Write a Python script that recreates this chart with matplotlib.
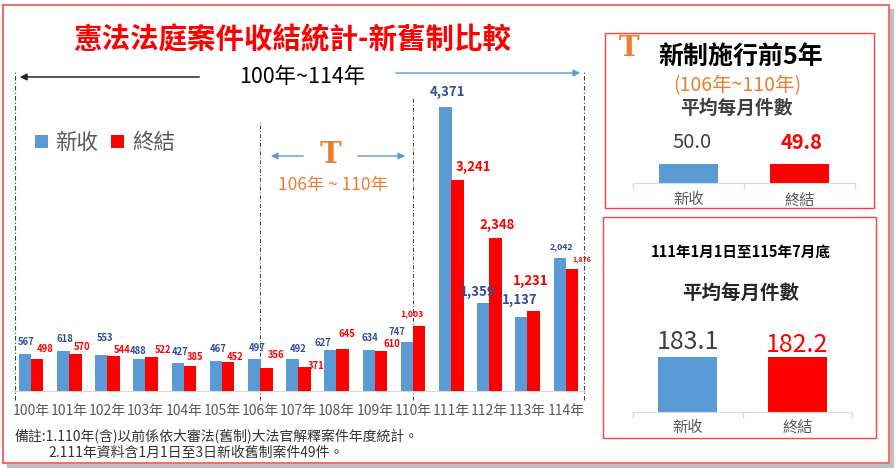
import matplotlib
matplotlib.use("Agg")
import numpy as np
import matplotlib.pyplot as plt
from matplotlib.patches import Rectangle

plt.rcParams['font.family'] = ['Noto Sans CJK TC', 'DejaVu Sans']

# ---- data ----
years = ['100年', '101年', '102年', '103年', '104年', '105年', '106年', '107年',
         '108年', '109年', '110年', '111年', '112年', '113年', '114年']
new_cases = [567, 618, 553, 488, 427, 467, 497, 492, 627, 634, 747, 4371, 1359, 1137, 2042]
closed_cases = [498, 570, 544, 522, 385, 452, 356, 371, 645, 610, 1003, 3241, 2348, 1231, 1876]

avg_labels = ['新收', '終結']
avg_before = [50.0, 49.8]      # 106~110年 平均每月件數
avg_after = [183.1, 182.2]     # 111年1月1日至115年7月底

# label offsets (pixels) and sizes, as placed in the original
blue_dx = [1, 1, 3, -2, 2, 2, 3, 6, -8, 1, -10, 2, -6, -2, 2]
blue_dy = [12, 12, 17, 8, 11, 12, 11, 10, 7, 12, 10, 15, 11, 17, 12]
red_dx = [8, 7, 9, 11, 5, 7, 10, 12, 4, 11, -7, 16, 2, -3, 10]
red_dy = [10, 7, 6, 7, 9, 5, 13, 1, 15, 7, 12, 13, 13, 30, 10]
blue_fs = [6.8] * 10 + [6.8, 9.5, 9.5, 9.5, 6.3]
red_fs = [6.8] * 10 + [6.2, 9.5, 9.5, 9.5, 5]

BLUE = '#5B9BD5'
RED = '#FF0000'
ORANGE = '#ED7D31'
GREY = '#595959'
DARK = '#404040'
NAVY = '#2F4F9A'

W, H = 896, 468


def fx(x):
    return x / W


def fy(y):
    return 1 - y / H


def fpx(x, y):
    return (x, H - y)


fig = plt.figure(figsize=(W / 100, H / 100), dpi=100)

# frame with shadow
fig.patches.append(Rectangle((fx(7), fy(467)), (893 - 7) / W, (467 - 9) / H,
                             transform=fig.transFigure, color='#BFBFBF', zorder=-3))
fig.patches.append(Rectangle((fx(3), fy(463)), (889 - 3) / W, (463 - 5) / H,
                             transform=fig.transFigure, facecolor='white',
                             edgecolor='#F07070', lw=1.5, zorder=-2))

# ---- main chart ----
ax = fig.add_axes([fx(12), fy(391), (585 - 12) / W, (391 - 70) / H])
ax.set_facecolor('none')
x = np.arange(len(years))
off = 0.155
bw = 0.33
b1 = ax.bar(x - off, new_cases, bw, color=BLUE, label='新收', zorder=2)
b2 = ax.bar(x + off, closed_cases, bw, color=RED, label='終結', zorder=3)
ax.set_xlim(-0.5, 14.5)
ax.set_ylim(0, 4940)

for i in range(len(years)):
    ax.annotate(f'{new_cases[i]:,}', (x[i] - off, new_cases[i]),
                xytext=(blue_dx[i], blue_dy[i]), textcoords='offset pixels',
                ha='center', va='center', fontsize=blue_fs[i],
                fontweight='bold', color=NAVY, zorder=5)
    ax.annotate(f'{closed_cases[i]:,}', (x[i] + off, closed_cases[i]),
                xytext=(red_dx[i], red_dy[i]), textcoords='offset pixels',
                ha='center', va='center', fontsize=red_fs[i],
                fontweight='bold', color=RED, zorder=5)

ax.set_xticks(x, years)
ax.tick_params(axis='x', length=0, pad=9, labelsize=10, labelcolor=GREY)
ax.set_yticks([])
for s in ['left', 'top', 'right']:
    ax.spines[s].set_visible(False)
ax.spines['bottom'].set_color('#D9D9D9')

dash = (0, (4, 2, 1, 2))
ax.vlines([-0.42, 14.48], -140, 4908, colors=DARK, lw=0.8,
          linestyles=[dash], clip_on=False, zorder=1)
ax.vlines([6], -140, 4138, colors=DARK, lw=0.7, linestyles=[dash], clip_on=False, zorder=1)
ax.vlines([10], -140, 4523, colors=DARK, lw=0.7, linestyles=[dash], clip_on=False, zorder=1)

ax.legend(handles=[b1, b2], loc='center left', bbox_to_anchor=(fx(35), fy(143)),
          bbox_transform=fig.transFigure, ncol=2, frameon=False, fontsize=15.5,
          handlelength=0.6, handleheight=0.6, handletextpad=0.35,
          columnspacing=0.6, borderpad=0, borderaxespad=0, labelcolor=GREY)

# arrows
ax.annotate('', xy=fpx(17, 77), xytext=fpx(202, 77), xycoords='figure pixels',
            arrowprops=dict(arrowstyle='-|>', color='#262626', lw=1.1, mutation_scale=10))
ax.annotate('', xy=fpx(583, 73), xytext=fpx(393, 73), xycoords='figure pixels',
            arrowprops=dict(arrowstyle='-|>', color=BLUE, lw=1, mutation_scale=10))
ax.annotate('', xy=fpx(268, 156), xytext=fpx(306, 156), xycoords='figure pixels',
            arrowprops=dict(arrowstyle='-|>', color=BLUE, lw=1, mutation_scale=10))
ax.annotate('', xy=fpx(408, 156), xytext=fpx(355, 156), xycoords='figure pixels',
            arrowprops=dict(arrowstyle='-|>', color=BLUE, lw=1, mutation_scale=10))

fig.text(fx(292), fy(40), '憲法法庭案件收結統計-新舊制比較', ha='center', va='center',
         fontsize=20.5, fontweight='bold', color=RED)
fig.text(fx(302), fy(77), '100年~114年', ha='center', va='center', fontsize=15.5, color='black')
fig.text(fx(330), fy(155), 'T', ha='center', va='center', fontsize=21,
         family='DejaVu Serif', fontweight='bold', color=ORANGE)
fig.text(fx(333), fy(185), '106年 ~ 110年', ha='center', va='center', fontsize=12.5, color=ORANGE)

fig.text(fx(15), fy(437), '備註:1.110年(含)以前係依大審法(舊制)大法官解釋案件年度統計。',
         ha='left', va='center', fontsize=10, color='#333333')
fig.text(fx(48), fy(453), '2.111年資料含1月1日至3日新收舊制案件49件。',
         ha='left', va='center', fontsize=10, color='#333333')


# ---- right panels ----
def avg_panel(left, right, bottom, top, values, ymax, pad):
    pax = fig.add_axes([fx(left), fy(bottom), (right - left) / W, (bottom - top) / H])
    pax.set_facecolor('none')
    pax.bar([0, 1], values, 0.54, color=[BLUE, RED])
    pax.set_xlim(-0.5, 1.5)
    pax.set_ylim(0, ymax)
    pax.set_yticks([])
    pax.set_xticks([0, 1], avg_labels)
    pax.set_xticks([-0.5, 0.5, 1.5], minor=True)
    pax.tick_params(axis='x', which='major', length=0, pad=pad, labelsize=11, labelcolor=GREY)
    pax.tick_params(axis='x', which='minor', length=4, width=1, color='#D9D9D9')
    for s in ['left', 'top', 'right']:
        pax.spines[s].set_visible(False)
    pax.spines['bottom'].set_color('#D9D9D9')
    return pax


p1 = avg_panel(633, 855, 183, 120, avg_before, 166, 6)
p1.annotate(f'{avg_before[0]:.1f}', (0, avg_before[0]), xytext=(3, 22), textcoords='offset pixels',
            ha='center', va='center', fontsize=14.5, color=DARK)
p1.annotate(f'{avg_before[1]:.1f}', (1, avg_before[1]), xytext=(2, 22), textcoords='offset pixels',
            ha='center', va='center', fontsize=14.5, fontweight='bold', color=RED)

p2 = avg_panel(633, 852, 412, 332, avg_after, 266, 5)
p2.annotate(f'{avg_after[0]:.1f}', (0, avg_after[0]), xytext=(0, 15), textcoords='offset pixels',
            ha='center', va='center', fontsize=18, color=DARK)
p2.annotate(f'{avg_after[1]:.1f}', (1, avg_after[1]), xytext=(0, 12), textcoords='offset pixels',
            ha='center', va='center', fontsize=18, color=RED)

fig.patches.append(Rectangle((fx(605), fy(208)), (874 - 605) / W, (208 - 33) / H,
                             transform=fig.transFigure, fill=False, ec='#FF4040', lw=1))
fig.patches.append(Rectangle((fx(603), fy(438)), (876 - 603) / W, (438 - 217) / H,
                             transform=fig.transFigure, fill=False, ec='#FF4040', lw=1))

fig.text(fx(629), fy(48), 'T', ha='center', va='center', fontsize=20,
         family='DejaVu Serif', fontweight='bold', color=ORANGE)
fig.text(fx(741), fy(57), '新制施行前5年', ha='center', va='center', fontsize=18,
         fontweight='bold', color='black')
fig.text(fx(737), fy(86), '(106年~110年)', ha='center', va='center', fontsize=14,
         fontweight='medium', color=ORANGE)
fig.text(fx(736), fy(108), '平均每月件數', ha='center', va='center', fontsize=13.5,
         fontweight='bold', color=DARK)
fig.text(fx(741), fy(252), '111年1月1日至115年7月底', ha='center', va='center', fontsize=10.5,
         fontweight='bold', color='black')
fig.text(fx(741), fy(293), '平均每月件數', ha='center', va='center', fontsize=14,
         fontweight='bold', color='#262626')

fig.savefig('out.png', dpi=100)
